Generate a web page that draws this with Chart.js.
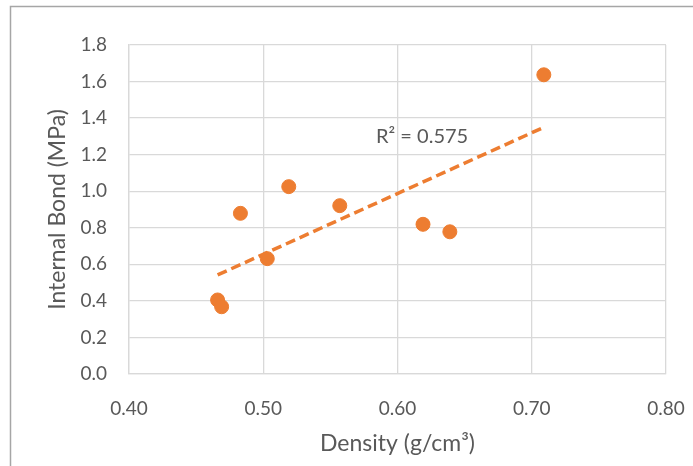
<!DOCTYPE html>
<html>
<head>
<meta charset="utf-8">
<script src="https://cdn.jsdelivr.net/npm/chart.js@4/dist/chart.umd.min.js"></script>
<style>
    html, body { margin: 0; padding: 0; background: #fff; }
    #wrap { position: relative; width: 693px; height: 466px; }
</style>
</head>
<body>
<div id="wrap"><canvas id="scatterChart" width="693" height="466"></canvas></div>
<script>
// density (g/cm3) vs internal bond (MPa)
const density = [0.466, 0.469, 0.483, 0.503, 0.519, 0.557, 0.619, 0.639, 0.709];
const internalBond = [0.405, 0.368, 0.879, 0.631, 1.025, 0.921, 0.819, 0.778, 1.637];

// linear trendline ends as drawn in the reference
const trendX = [0.466, 0.710];
const trendY = [0.542, 1.353];
const r2Label = 'R\u00B2 = 0.575';
const r2Pos = [0.584, 1.297];

const xTicks = [0.40, 0.50, 0.60, 0.70, 0.80];
const yTicks = [0.0, 0.2, 0.4, 0.6, 0.8, 1.0, 1.2, 1.4, 1.6, 1.8];

const orange = '#ED7D31';
const textGray = '#595959';
const fontFamily = 'Lato, "Open Sans", sans-serif';

// frame lines + R² text
const extras = {
    id: 'extras',
    beforeDraw(chart) {
        const ctx = chart.ctx;
        ctx.save();
        ctx.strokeStyle = '#a6a6a6';
        ctx.lineWidth = 1.5;
        ctx.beginPath();
        ctx.moveTo(10.5, 466);
        ctx.lineTo(10.5, 6.5);
        ctx.lineTo(693, 6.5);
        ctx.stroke();
        ctx.restore();
    },
    afterDatasetsDraw(chart) {
        const ctx = chart.ctx;
        const xs = chart.scales.x, ys = chart.scales.y;
        ctx.save();
        ctx.fillStyle = textGray;
        ctx.font = '20px ' + fontFamily;
        ctx.textBaseline = 'middle';
        ctx.fillText(r2Label, xs.getPixelForValue(r2Pos[0]), ys.getPixelForValue(r2Pos[1]));
        ctx.restore();
    }
};

const ctx = document.getElementById('scatterChart').getContext('2d');
new Chart(ctx, {
    type: 'scatter',
    data: {
        datasets: [{
            label: 'Internal Bond',
            data: density.map((d, i) => ({ x: d, y: internalBond[i] })),
            backgroundColor: orange,
            borderColor: orange,
            pointRadius: 7,
            pointHoverRadius: 7,
            order: 1
        }, {
            label: 'Linear trend',
            type: 'line',
            data: trendX.map((d, i) => ({ x: d, y: trendY[i] })),
            borderColor: orange,
            borderWidth: 3.5,
            borderDash: [10, 5],
            pointRadius: 0,
            fill: false,
            order: 2
        }]
    },
    options: {
        responsive: false,
        animation: false,
        layout: { padding: { left: 0, top: 45, right: 27, bottom: 0 } },
        plugins: {
            legend: { display: false },
            title: { display: false },
            tooltip: { enabled: false }
        },
        scales: {
            x: {
                type: 'linear',
                min: 0.4,
                max: 0.8,
                afterBuildTicks: axis => { axis.ticks = xTicks.map(v => ({ value: v })); },
                afterFit: axis => {
                    axis.height = 92;
                    axis.paddingLeft = 0;
                    axis.paddingRight = 0;
                },
                grid: { color: '#d9d9d9', lineWidth: 1.3, drawTicks: false },
                border: { color: '#d9d9d9', width: 1.3 },
                ticks: {
                    color: textGray,
                    padding: 23,
                    font: { family: fontFamily, size: 19 },
                    callback: v => v.toFixed(2)
                },
                title: {
                    display: true,
                    text: 'Density (g/cm\u00B3)',
                    color: textGray,
                    font: { family: fontFamily, size: 23 },
                    padding: { top: 0, bottom: 9 }
                }
            },
            y: {
                min: 0,
                max: 1.8,
                afterBuildTicks: axis => { axis.ticks = yTicks.map(v => ({ value: v })); },
                afterFit: axis => {
                    axis.width = 129;
                    axis.paddingTop = 0;
                    axis.paddingBottom = 0;
                },
                grid: { color: '#d9d9d9', lineWidth: 1.3, drawTicks: false },
                border: { color: '#d9d9d9', width: 1.3 },
                ticks: {
                    color: textGray,
                    padding: 22,
                    font: { family: fontFamily, size: 19 },
                    callback: v => v.toFixed(1)
                },
                title: {
                    display: true,
                    text: 'Internal Bond (MPa)',
                    color: textGray,
                    font: { family: fontFamily, size: 23 },
                    padding: { top: 44, bottom: 0 }
                }
            }
        }
    },
    plugins: [extras]
});
</script>
</body>
</html>
